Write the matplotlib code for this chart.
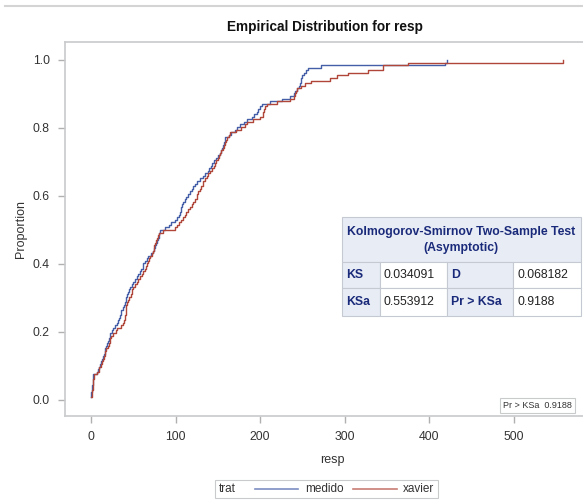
import numpy as np
import matplotlib
matplotlib.use("Agg")
import matplotlib.pyplot as plt
from matplotlib.patches import Rectangle
from matplotlib.lines import Line2D

plt.rcParams["font.family"] = ["Liberation Sans", "DejaVu Sans"]

# Data: responses (132 obs per group)
medido = [0, 0, 0, 1, 1, 1, 2, 2, 2, 2,
          7, 8, 10, 11, 12, 13,
          14, 15, 16, 17, 18, 19, 20, 21, 22, 23, 25, 26,
          28, 31, 32, 33, 34, 35, 36, 38, 39, 40,
          41, 42, 43, 44, 45, 46, 48, 50, 52, 54, 56,
          58, 59, 61, 62, 64, 66, 68, 71, 73,
          75, 76, 77, 78, 79, 80, 81, 82,
          88, 92, 95, 99, 102, 104, 105, 106, 107, 108, 109,
          111, 113, 115, 117, 119, 121, 123, 126, 129, 132, 135, 138,
          140, 142, 143, 145, 148, 150, 153,
          154, 155, 156, 157, 158, 159, 163, 166, 170, 173, 176,
          181, 185, 190, 193, 196, 198, 200, 202,
          212, 226, 236, 240, 242, 244, 246, 247, 248, 249, 250,
          252, 254, 257, 272, 419, 421]
xavier = [0, 1, 1, 1, 2, 2, 2, 2, 3, 3,
          7, 9, 10, 12, 13,
          14, 15, 16, 17, 18, 20, 21, 22, 23, 24, 26,
          29, 31, 35, 38, 39, 40, 40, 41, 41, 42, 42, 43,
          44, 45, 47, 48, 49, 50, 52, 54, 56, 58, 60, 62, 64,
          65, 66, 68, 69, 70, 72, 73, 74, 75, 76, 77, 78, 79, 80,
          85, 99, 102, 104, 107, 109,
          111, 113, 115, 117, 119, 121, 123, 125,
          126, 127, 129, 130, 132, 133, 135,
          137, 139, 141, 143, 145, 147, 148, 150, 151, 153, 154, 156,
          157, 158, 160, 161, 163, 164, 172, 178, 182, 185,
          192, 200, 203, 204, 205, 206, 208, 220, 236,
          240, 241, 243, 244, 249, 253, 260, 283, 291, 304,
          328, 346, 346, 375, 559]
groups = ["medido", "xavier"]
colors = ["#445FA8", "#B0463A"]

ks_labels = ["KS", "D", "KSa", "Pr > KSa"]
ks_values = ["0.034091", "0.068182", "0.553912", "0.9188"]

W, H = 583, 501
fig = plt.figure(figsize=(W / 100, H / 100), dpi=100)


def fx(px):
    return px / W


def fy(py):
    return 1 - py / H


# axes placed in pixel terms; right side runs off the picture
ax = fig.add_axes([fx(65), fy(416), fx(600) - fx(65), fy(42) - fy(416)])
for data, col in zip([medido, xavier], colors):
    xs = np.sort(np.array(data, dtype=float))
    ys = np.arange(1, len(xs) + 1) / len(xs)
    ax.step(xs, ys, where="post", color=col, lw=1.0)

ax.set_xlim((65 - 91) / 0.845, (600 - 91) / 0.845)
ax.set_ylim((400 - 416) / 340, (400 - 42) / 340)
ax.set_xticks([0, 100, 200, 300, 400, 500])
ax.set_yticks([0.0, 0.2, 0.4, 0.6, 0.8, 1.0])
ax.set_yticklabels([f"{v:.1f}" for v in ax.get_yticks()])
for s in ["left", "bottom", "top"]:
    ax.spines[s].set_color("#C8CACC")
    ax.spines[s].set_linewidth(1.2)
ax.spines["right"].set_visible(False)
ax.tick_params(colors="#B0B0B0", labelcolor="#333333", labelsize=8.8,
               length=5, width=1, pad=6)
ax.set_xlabel("resp", fontsize=9, color="#333333", labelpad=8)
ax.set_ylabel("Proportion", fontsize=9, color="#333333", labelpad=4)

fig.text(fx(325), fy(27), "Empirical Distribution for resp", ha="center",
         va="center", fontsize=9.8, fontweight="bold", color="#111111")
fig.add_artist(Line2D([fx(5), 1], [fy(6), fy(6)], color="#D4D4D4", lw=1.5))

# KS table
hdr_bg = "#E8ECF5"
edge = "#C5C9D2"
navy = "#1A2A7A"
fig.add_artist(Rectangle((fx(342), fy(262)), fx(581) - fx(342), fy(217) - fy(262),
                         transform=fig.transFigure, fc=hdr_bg, ec=edge, lw=0.8))
fig.text(fx(461), fy(240), "Kolmogorov-Smirnov Two-Sample Test\n(Asymptotic)",
         ha="center", va="center", multialignment="center", fontsize=8.8,
         fontweight="bold", color=navy, linespacing=1.35)
cols = [342, 380, 447, 513, 581]
rows = [262, 288, 316]
for r in range(2):
    for c in range(4):
        lab = (c % 2 == 0)
        fig.add_artist(Rectangle((fx(cols[c]), fy(rows[r + 1])),
                                 fx(cols[c + 1]) - fx(cols[c]),
                                 fy(rows[r]) - fy(rows[r + 1]),
                                 transform=fig.transFigure,
                                 fc=hdr_bg if lab else "white", ec=edge, lw=0.8))
        i = r * 2 + c // 2
        txt = ks_labels[i] if lab else ks_values[i]
        fig.text(fx(cols[c] + 4), fy((rows[r] + rows[r + 1]) / 2), txt,
                 ha="left", va="center", fontsize=8.8,
                 fontweight="bold" if lab else "normal",
                 color=navy if lab else "#222222")

# small inset box
fig.text(fx(503), fy(405.5), f"Pr > KSa  {ks_values[3]}", ha="left", va="center",
         fontsize=6.5, color="#333333",
         bbox=dict(boxstyle="square,pad=0.35", fc="white", ec="#C8CACC", lw=0.8))

# legend
fig.add_artist(Rectangle((fx(215), fy(498)), fx(438) - fx(215), fy(480) - fy(498),
                         transform=fig.transFigure, fc="white", ec="#C8CACC", lw=0.8))
ly = fy(489)
fig.text(fx(219), ly, "trat", ha="left", va="center", fontsize=8.5, color="#333333")
fig.add_artist(Line2D([fx(255), fx(298)], [ly, ly], color=colors[0], lw=1.2, alpha=0.7))
fig.text(fx(305), ly, groups[0], ha="left", va="center", fontsize=8.5, color="#333333")
fig.add_artist(Line2D([fx(353), fx(397)], [ly, ly], color=colors[1], lw=1.2, alpha=0.7))
fig.text(fx(403), ly, groups[1], ha="left", va="center", fontsize=8.5, color="#333333")

fig.savefig("out.png", dpi=100)
